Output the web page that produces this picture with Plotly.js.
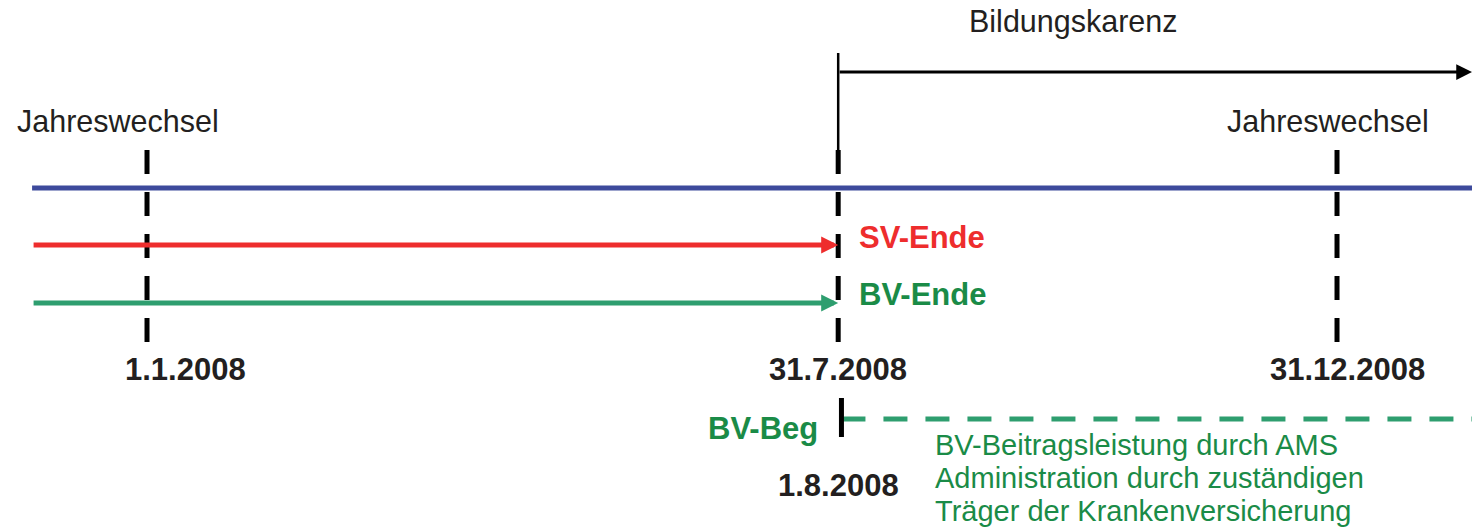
<!DOCTYPE html>
<html>
<head>
<meta charset="utf-8">
<script src="https://cdn.plot.ly/plotly-3.0.1.min.js"></script>
<style>html,body{margin:0;padding:0;background:#fff;}#chart{width:1472px;height:528px;}</style>
</head>
<body>
<div id="chart"></div>
<script>
// ---- data ----
const axisRange = ['2007-11-16 21:50', '2009-02-10 09:40'];
const timelineStart = '2007-11-26 18:00';
const timelineEnd = '2009-02-10 09:40';
const yearChangeDates = ['2008-01-01', '2008-12-31'];
const yearChangeLabel = 'Jahreswechsel';
const markerDates = ['2008-01-01', '2008-07-31', '2008-12-31'];
const markerLabels = ['1.1.2008', '31.7.2008', '31.12.2008'];
const markerLabelShift = [38, 0, 10];
const svEnd = '2008-07-31';
const bvEnd = '2008-07-31';
const leaveStart = '2008-07-31';
const leaveLabel = 'Bildungskarenz';
const bvBegin = '2008-08-01';
const bvBeginLabel = '1.8.2008';
const infoLines = ['BV-Beitragsleistung durch AMS', 'Administration durch zuständigen', 'Träger der Krankenversicherung'];
// rows (vertical positions of the diagram rows, top = 0)
const rows = {title: 21, bracketTop: 53, bracket: 72, yearLabel: 121, tickTop: 150, tickBottom: 342,
  blue: 188, sv: 245, bv: 303, dates: 369, beg: 419, begTickTop: 398, begTickBottom: 437,
  begLabel: 428, begDate: 485};
const infoRows = [445, 478, 511];

const BLACK = '#231F20', BLUE = '#3D4A9C', RED = '#EE2D2D', GREEN_LINE = '#2E9E6F', GREEN_TEXT = '#1A8B47';
const FONT = 'Liberation Sans, Arial, sans-serif';

const traces = [];
// dashed verticals
markerDates.forEach(d => traces.push({x: [d, d], y: [rows.tickTop, rows.tickBottom], mode: 'lines',
  line: {color: '#000', width: 5, dash: '24px,18px'}, hoverinfo: 'skip'}));
// bracket vertical
traces.push({x: [leaveStart, leaveStart], y: [rows.bracketTop, rows.tickTop], mode: 'lines',
  line: {color: '#000', width: 2.5}, hoverinfo: 'skip'});
// blue line
traces.push({x: [timelineStart, timelineEnd], y: [rows.blue, rows.blue], mode: 'lines',
  line: {color: BLUE, width: 5}, hoverinfo: 'skip'});
// green dashed BV after begin
traces.push({x: [bvBegin, timelineEnd], y: [rows.beg, rows.beg], mode: 'lines',
  line: {color: GREEN_LINE, width: 5, dash: '24px,18px'}, hoverinfo: 'skip'});
// BV-Beg tick
traces.push({x: [bvBegin, bvBegin], y: [rows.begTickTop, rows.begTickBottom], mode: 'lines',
  line: {color: '#000', width: 5}, hoverinfo: 'skip'});

const ann = [];
function arrow(x0, x1, y, color, w, size) {
  ann.push({x: x1, y: y, ax: x0, ay: y, xref: 'x', yref: 'y', axref: 'x', ayref: 'y', text: '',
    showarrow: true, arrowhead: 2, arrowsize: size, arrowwidth: w, arrowcolor: color, standoff: 0});
}
arrow(timelineStart, svEnd, rows.sv, RED, 5, 0.68);
arrow(timelineStart, bvEnd, rows.bv, GREEN_LINE, 5, 0.68);
arrow(leaveStart, timelineEnd, rows.bracket, '#000', 3, 1.05);

function txt(text, x, y, opts) {
  ann.push(Object.assign({x: x, y: y, xref: 'x', yref: 'y', text: text, showarrow: false,
    xanchor: 'center', yanchor: 'middle', font: {family: FONT, size: 30.5, color: BLACK}}, opts || {}));
}
txt(leaveLabel, leaveStart, rows.title, {xshift: 235});
txt(yearChangeLabel, yearChangeDates[0], rows.yearLabel, {xshift: -29});
txt(yearChangeLabel, yearChangeDates[1], rows.yearLabel, {xshift: -9});
markerDates.forEach((d, i) => txt('<b>' + markerLabels[i] + '</b>', d, rows.dates,
  {xshift: markerLabelShift[i], font: {family: FONT, size: 31, color: BLACK}}));
txt('<b>SV-Ende</b>', svEnd, rows.sv - 8, {xanchor: 'left', xshift: 19, font: {family: FONT, size: 31, color: RED}});
txt('<b>BV-Ende</b>', bvEnd, rows.bv - 9, {xanchor: 'left', xshift: 19, font: {family: FONT, size: 31, color: GREEN_TEXT}});
txt('<b>BV-Beg</b>', bvBegin, rows.begLabel, {xanchor: 'right', xshift: -21, font: {family: FONT, size: 31, color: GREEN_TEXT}});
txt('<b>' + bvBeginLabel + '</b>', bvBegin, rows.begDate, {xshift: -3, font: {family: FONT, size: 31, color: BLACK}});
infoLines.forEach((t, i) => txt(t, bvBegin, infoRows[i], {xanchor: 'left', xshift: 92,
  font: {family: FONT, size: 29, color: GREEN_TEXT}}));

const layout = {
  width: 1472, height: 528, margin: {l: 0, r: 0, t: 0, b: 0},
  paper_bgcolor: '#fff', plot_bgcolor: '#fff', showlegend: false,
  xaxis: {type: 'date', range: axisRange, visible: false, fixedrange: true},
  yaxis: {range: [528, 0], visible: false, fixedrange: true},
  annotations: ann
};
Plotly.newPlot('chart', traces, layout, {staticPlot: true, displayModeBar: false});
</script>
</body>
</html>
